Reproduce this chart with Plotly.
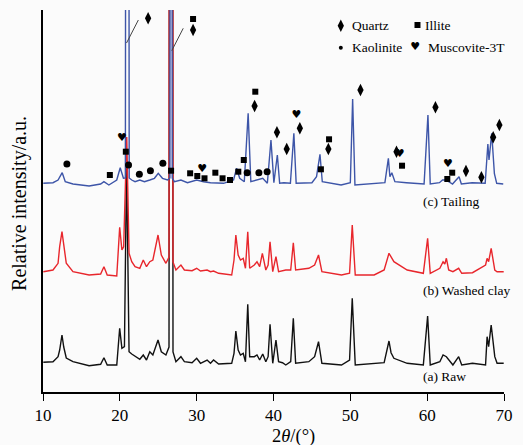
import plotly.graph_objects as go

# ---------------- data ----------------
# 2theta positions and relative intensities (arbitrary units, baseline ~30)
raw_x = [10.04, 11.3, 11.96, 12.17, 12.47, 12.7, 13.03, 13.9, 16.0, 17.5, 17.93, 18.36, 19.6, 19.98,
         20.27, 20.6, 20.88, 21.2, 21.55, 21.98, 22.6, 23.05, 23.47, 23.9, 24.3, 24.97, 25.4, 26.0,
         26.4, 26.6, 26.74, 26.92, 27.3, 27.95, 28.4, 29.4, 30.0, 30.5, 31.36, 31.8, 32.2, 32.86,
         34.56, 34.86, 35.1, 35.4, 35.7, 36.06, 36.35, 36.65, 36.9, 37.5, 37.85, 38.2, 38.6, 39.0,
         39.3, 39.55, 39.9, 40.32, 40.66, 41.17, 41.6, 42.24, 42.58, 42.88, 44.6, 45.35, 45.86, 46.3,
         48.85, 49.9, 50.25, 50.64, 53.1, 54.4, 55.03, 55.3, 55.67, 57.4, 59.5, 60.06, 60.4, 61.65,
         62.07, 62.5, 63.35, 64.1, 64.5, 65.9, 67.6, 67.8, 68.0, 68.33, 68.8, 69.1, 69.96]
raw_y = [29.7, 30.3, 35.3, 42, 57, 45, 34, 30.3, 26.3, 27.7, 34.3, 27, 27, 63.7,
         43.7, 45.3, 230, 40.3, 38, 36, 32.7, 37, 32, 40.3, 37, 52, 40.3, 37,
         45, 2000, 2000, 40, 30.3, 35.3, 30.3, 29.3, 33.7, 28.7, 32, 28.7, 32, 28,
         28.7, 38.7, 61, 42, 37, 38.7, 30.3, 87.7, 35.3, 35.3, 37, 32, 38, 30.3,
         35.3, 67.7, 28.7, 52, 30.3, 29.3, 27, 30.3, 73.7, 28.7, 30.3, 35.3, 50.3, 28.7,
         27, 32, 93.7, 27, 28.7, 29.3, 51, 39.3, 33.7, 28.7, 27, 76, 27, 30.3,
         37, 35.3, 27, 35.3, 27, 28.7, 27, 55.3, 45.3, 67, 35.3, 28.7, 28.7]

washed_x = [10.04, 11.3, 11.96, 12.17, 12.47, 12.7, 13.03, 13.9, 16.0, 17.5, 17.93, 18.36, 19.6, 19.98,
            20.27, 20.5, 20.9, 21.2, 21.55, 21.98, 22.6, 23.05, 23.47, 23.9, 24.3, 24.97, 25.4, 26.0,
            26.4, 26.58, 26.76, 26.92, 27.3, 27.95, 28.4, 29.4, 30.0, 30.5, 31.36, 31.8, 32.2, 32.86,
            34.56, 34.86, 35.1, 35.4, 35.7, 36.06, 36.35, 36.65, 36.9, 37.5, 37.85, 38.2, 38.55, 39.0,
            39.3, 39.55, 39.9, 40.32, 40.66, 41.6, 42.24, 42.58, 42.88, 44.6, 45.35, 45.86, 46.3,
            48.85, 49.9, 50.25, 50.64, 53.1, 54.4, 55.03, 55.3, 55.67, 57.4, 59.5, 60.06, 60.4, 61.65,
            62.07, 62.3, 62.5, 62.8, 63.35, 64.1, 64.5, 65.9, 67.6, 67.8, 68.0, 68.33, 68.8, 69.1, 69.96]
washed_y = [30.3, 32, 38.7, 55.3, 70.3, 55.3, 38.7, 30.3, 27, 28, 35.3, 27, 26, 74.7,
            52, 55.3, 165, 48.7, 40.3, 35.3, 33.7, 42, 35.3, 40.3, 42, 67, 47, 38.7,
            45, 2000, 2000, 40, 32, 37, 32, 31.3, 33.7, 31, 32, 30.3, 31, 28.7,
            27, 42, 67, 47, 42, 43.7, 33.7, 70.3, 33.7, 37, 40.3, 35.3, 48.7, 32,
            37, 60.3, 30.3, 45.3, 30.3, 32, 32, 59.3, 32, 33.7, 37, 47, 30.3,
            27, 28.7, 77, 27, 27, 32, 48.7, 45.3, 40.3, 32, 28.7, 63.7, 28.7, 33.7,
            40.3, 38, 43.7, 32, 30.3, 33.7, 28.7, 29.3, 37, 43.7, 40.3, 53.7, 32, 30.3, 30.3]

tailing_x = [10.04, 11.3, 11.96, 12.5, 12.9, 13.9, 16.0, 17.5, 17.93, 18.57, 19.6, 20.05, 20.47,
             20.72, 20.97, 21.22, 21.55, 21.98, 22.6, 23.2, 23.9, 24.5, 25.0, 25.55, 26.2,
             26.52, 26.67, 26.82, 27.1, 27.95, 28.8, 30.0, 30.9, 31.8, 33.5, 34.8, 35.2, 35.6, 36.2,
             36.7, 37.05, 37.7, 38.6, 39.2, 39.67, 40.05, 40.5, 40.8, 41.35, 42.2, 42.65, 42.95, 45.0,
             45.6, 46.05, 46.35, 48.8, 50.0, 50.3, 50.6, 53.1, 54.5, 54.95, 55.15, 55.4, 55.8, 57.3,
             59.6, 60.1, 60.4, 61.6, 62.0, 62.45, 63.3, 64.15, 64.45, 65.85, 67.55, 67.9, 68.05, 68.4,
             68.75, 69.05, 69.9]
tailing_y = [30.7, 31.3, 34, 41.3, 32.3, 30, 28, 30, 32.3, 29, 34, 46.3, 35.7,
             36, 2000, 36, 34, 32.3, 34, 32.3, 34, 35.7, 40.7, 35.7, 34,
             36, 2000, 36, 32.3, 34, 31.3, 34, 32.3, 31.3, 30.7, 34, 45.7, 35.7, 32.3,
             100.7, 32.3, 34, 35.7, 30.7, 74, 31.3, 59, 30.7, 31.3, 30.7, 80.7, 30.7, 31.3,
             37.3, 59.7, 32.3, 29, 31.3, 115, 29, 30, 31.3, 55.7, 37.3, 41.3, 32.3, 31.3,
             30, 99, 30, 31.3, 34, 34, 30, 37.3, 30, 31.3, 30.7, 70, 54, 80.7,
             40.3, 30.7, 30]

# vertical offsets of the stacked patterns
raw_offset, washed_offset, tailing_offset = 0, 90, 178

# phase markers: 2theta, height (plot units)
quartz_x = [23.68, 29.53, 37.54, 40.45, 41.72, 43.43, 47.14, 51.32, 56.01, 61.08, 65.05, 67.06, 68.59, 69.4]
quartz_y = [373.7, 362, 286, 259.7, 243, 263.7, 243, 302, 240.3, 284.7, 221, 214.7, 254.7, 267]
illite_x = [29.53, 37.63, 20.78, 18.7, 26.67, 29.15, 30.08, 31.02, 32.43, 33.37, 34.34, 35.42, 36.13,
            47.23, 46.17, 56.73, 63.26, 62.62]
illite_y = [373, 300.3, 240.3, 217, 221.3, 218.7, 216, 213.7, 219.3, 213.7, 212, 220.3, 232,
            252.7, 222.7, 226.3, 219.3, 213]
kaolinite_x = [13.11, 21.13, 22.54, 23.98, 25.6, 36.57, 38.1, 39.17]
kaolinite_y = [228, 227, 217.7, 221.3, 228.7, 219.3, 219.3, 220.3]
muscovite_x = [20.27, 30.73, 42.97, 56.44, 62.71]
muscovite_y = [253.7, 223, 276.3, 237.7, 228]

x_ticks = [10, 20, 30, 40, 50, 60, 70]
series_labels = ["(a) Raw", "(b) Washed clay", "(c) Tailing"]
phase_names = ["Quartz", "Illite", "Kaolinite", "Muscovite-3T"]

# ---------------- figure ----------------
SERIF = "Liberation Serif, Times New Roman, serif"
fig = go.Figure()

for xs, ys, off, col in [(raw_x, raw_y, raw_offset, "#111111"),
                         (washed_x, washed_y, washed_offset, "#e8262c"),
                         (tailing_x, tailing_y, tailing_offset, "#3d55a8")]:
    fig.add_trace(go.Scatter(x=xs, y=[v + off for v in ys], mode="lines",
                             line=dict(color=col, width=1.4), showlegend=False,
                             hoverinfo="skip"))

fig.add_trace(go.Scatter(x=quartz_x, y=quartz_y, mode="markers", showlegend=False,
                         marker=dict(symbol="diamond-tall", size=9, color="black"), cliponaxis=False))
fig.add_trace(go.Scatter(x=illite_x, y=illite_y, mode="markers", showlegend=False,
                         marker=dict(symbol="square", size=6, color="black"), cliponaxis=False))
fig.add_trace(go.Scatter(x=kaolinite_x, y=kaolinite_y, mode="markers", showlegend=False,
                         marker=dict(symbol="circle", size=7, color="black"), cliponaxis=False))
fig.add_trace(go.Scatter(x=muscovite_x, y=muscovite_y, mode="text", text=["♥"] * len(muscovite_x),
                         textfont=dict(family="DejaVu Sans", size=11, color="black"),
                         showlegend=False, cliponaxis=False))

# legend (custom 2x2 layout)
fig.add_trace(go.Scatter(x=[48.76], y=[366.3], mode="markers", showlegend=False,
                         marker=dict(symbol="diamond-tall", size=9, color="black")))
fig.add_trace(go.Scatter(x=[58.74], y=[367], mode="markers", showlegend=False,
                         marker=dict(symbol="square", size=6, color="black")))
fig.add_trace(go.Scatter(x=[48.76], y=[344.3], mode="markers", showlegend=False,
                         marker=dict(symbol="circle", size=4, color="black")))
fig.add_trace(go.Scatter(x=[58.44], y=[344.3], mode="text", text=["♥"], showlegend=False,
                         textfont=dict(family="DejaVu Sans", size=11, color="black")))

ann = []
for (lx, ly, t) in [(50.0, 366.3, phase_names[0]), (59.5, 366.3, phase_names[1]),
                    (50.0, 344.3, phase_names[2]), (59.9, 344.3, phase_names[3])]:
    ann.append(dict(x=lx, y=ly, xref="x", yref="y", text=t, showarrow=False, xanchor="left",
                    yanchor="middle", font=dict(family=SERIF, size=13.5, color="black")))
for (ly, t) in [(15.3, series_labels[0]), (101.3, series_labels[1]), (190.3, series_labels[2])]:
    ann.append(dict(x=59.25, y=ly, xref="x", yref="y", text=t, showarrow=False, xanchor="left",
                    yanchor="middle", font=dict(family=SERIF, size=13.5, color="black")))
# axis titles
ann.append(dict(x=(298 - 43) / 469, y=-(436 - 392) / 382, xref="paper", yref="paper", text="2<i>θ</i>/(°)",
                showarrow=False, xanchor="center", yanchor="middle",
                font=dict(family=SERIF, size=18.5, color="black")))
ann.append(dict(x=(19.5 - 43) / 469, y=(392 - 203) / 382, xref="paper", yref="paper",
                text="Relative intensity/a.u.", textangle=-90, showarrow=False,
                xanchor="center", yanchor="middle", font=dict(family=SERIF, size=20, color="black")))

shapes = [
    dict(type="line", xref="x", yref="y", x0=22.41, y0=372, x1=20.87, y1=349,
         line=dict(color="#444444", width=1)),
    dict(type="line", xref="x", yref="y", x0=28.25, y0=363.7, x1=26.76, y1=341.3,
         line=dict(color="#444444", width=1)),
]

fig.update_layout(
    width=523, height=445,
    margin=dict(l=43, r=11, t=10, b=53),
    paper_bgcolor="#fbfbfb", plot_bgcolor="#fbfbfb",
    annotations=ann, shapes=shapes,
    xaxis=dict(range=[10, 70], tickvals=x_ticks, ticks="outside", ticklen=7, tickwidth=1.2,
               tickcolor="black", showline=True, linecolor="black", linewidth=1.5,
               showgrid=False, zeroline=False,
               tickfont=dict(family="Liberation Serif", size=17, color="black")),
    yaxis=dict(range=[0, 382], showticklabels=False, ticks="", showline=True,
               linecolor="black", linewidth=1.5, showgrid=False, zeroline=False),
)

fig.write_html("out.html", config={"displayModeBar": False},
               post_script="document.body.style.margin='0';document.body.style.overflow='hidden';")
